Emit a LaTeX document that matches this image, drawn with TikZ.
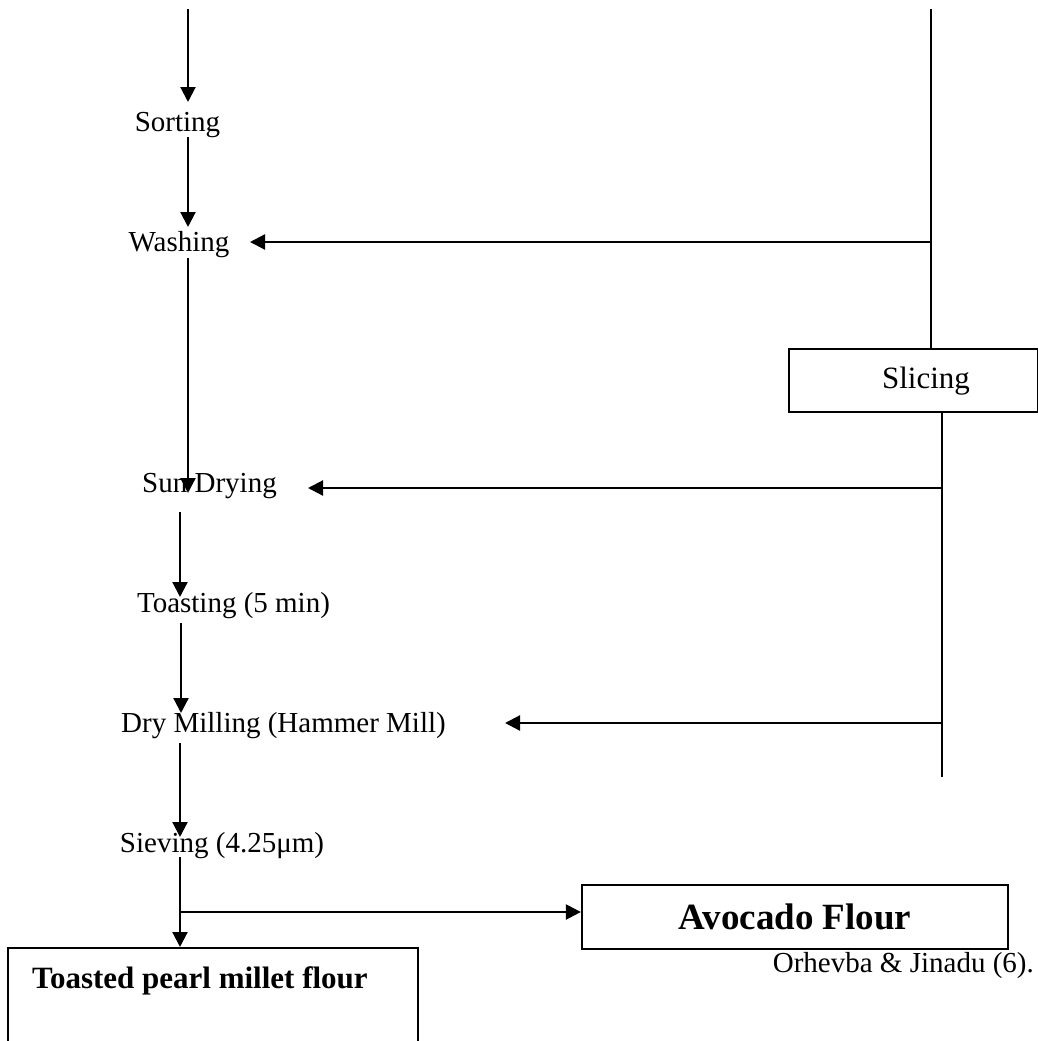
\documentclass[tikz,border=0pt]{standalone}
\usepackage{fontspec}
\setmainfont{Liberation Serif}
\usetikzlibrary{arrows.meta}
\tikzset{
  lbl/.style={font=\fontsize{29}{34}\selectfont, inner sep=0pt},
  ln/.style={line width=2.2pt},
  arr/.style={line width=2.2pt, -{Triangle[width=15pt,length=15pt]}},
  flowbox/.style={draw, line width=2.2pt, inner sep=0pt},
}
\begin{document}
\begin{tikzpicture}[x=1pt,y=-1pt]
\useasboundingbox (0,0) rectangle (1038,1041);
% text nodes
\node[lbl] (sorting) at (177.5,125) {Sorting};
\node[lbl] (washing) at (179,245) {Washing};
\node[lbl] (sundry) at (209.5,486) {Sun Drying};
\node[lbl] (toasting) at (233.5,606) {Toasting (5 min)};
\node[lbl] (milling) at (283.5,726) {Dry Milling (Hammer Mill)};
\node[lbl] (sieving) at (222,846) {Sieving (4.25μm)};
% boxes
\node[flowbox, anchor=north west, minimum width=249pt, minimum height=63pt,
      text width=249pt, align=left, font=\fontsize{31}{36}\selectfont]
      (slicing) at (788,348) {\hspace*{93pt}Slicing};
\node[flowbox, minimum width=426pt, minimum height=64pt,
      font=\bfseries\fontsize{37}{42}\selectfont] (avocado) at (795,917) {Avocado Flour};
\node[flowbox, anchor=north west, minimum width=410pt, minimum height=120pt] (toasted) at (7,947) {};
\node[inner sep=0pt, font=\bfseries\fontsize{31}{36}\selectfont, anchor=west] (toastedtxt) at (32,981) {Toasted pearl millet flour};
\node[lbl, anchor=east] (source) at (1034,966) {Orhevba \& Jinadu (6).};
% coordinates
\coordinate (l0) at (188,9);
\coordinate (s1) at (188,137);
\coordinate (w1) at (188,258);
\coordinate (sd1) at (180,512);
\coordinate (t1) at (181,623);
\coordinate (m1) at (180,743);
\coordinate (sv1) at (180,857);
\coordinate (br) at (180,912);
\coordinate (r0) at (931,9);
\coordinate (rw) at (931,242);
\coordinate (r1) at (942,777);
\coordinate (rs) at (942,488);
\coordinate (rm) at (942,723);
% left chain
\draw[arr] (l0) -- (188,102);
\draw[arr] (s1) -- (188,227);
\draw[arr] (w1) -- (188,493);
\draw[arr] (sd1) -- (180,597);
\draw[arr] (t1) -- (181,713);
\draw[arr] (m1) -- (180,837);
\draw[arr] (sv1) -- (toasted.north -| sv1);
\draw[arr] (br) -- (avocado.west |- br);
% right chain
\draw[ln] (r0) -- (slicing.north -| r0);
\draw[arr] (rw) -- (250,242);
\draw[ln] (slicing.south -| r1) -- (r1);
\draw[arr] (rs) -- (308,488);
\draw[arr] (rm) -- (505,723);
\end{tikzpicture}
\end{document}
